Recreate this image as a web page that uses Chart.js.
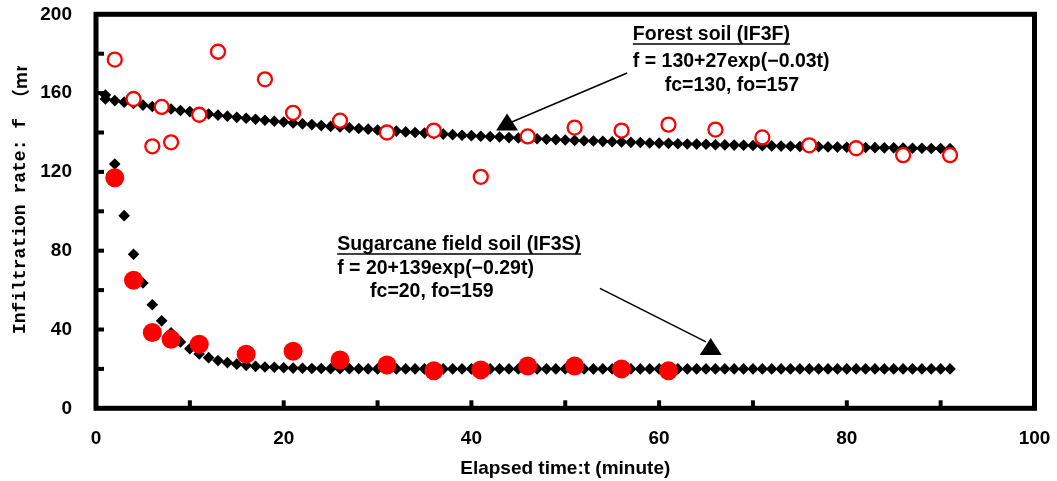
<!DOCTYPE html>
<html>
<head>
<meta charset="utf-8">
<script src="https://cdn.jsdelivr.net/npm/chart.js@4.4.1/dist/chart.umd.min.js"></script>
<style>
html, body { margin: 0; padding: 0; background: #fff; }
#wrap { width: 1057px; height: 481px; position: relative; }
</style>
</head>
<body>
<div id="wrap"><canvas id="myChart"></canvas></div>
<script>
// fitted curves, one diamond per minute
const fitTime = [
  1, 2, 3, 4, 5, 6, 7, 8, 9, 10, 11, 12, 13, 14, 15, 16, 17, 18, 19, 20,
  21, 22, 23, 24, 25, 26, 27, 28, 29, 30, 31, 32, 33, 34, 35, 36, 37, 38, 39, 40,
  41, 42, 43, 44, 45, 46, 47, 48, 49, 50, 51, 52, 53, 54, 55, 56, 57, 58, 59, 60,
  61, 62, 63, 64, 65, 66, 67, 68, 69, 70, 71, 72, 73, 74, 75, 76, 77, 78, 79, 80,
  81, 82, 83, 84, 85, 86, 87, 88, 89, 90, 91
];
const forestFit = [
  157.0, 156.2, 155.4, 154.7, 153.9, 153.2, 152.6, 151.9, 151.2, 150.6,
  150.0, 149.4, 148.8, 148.3, 147.7, 147.2, 146.7, 146.2, 145.7, 145.3,
  144.8, 144.4, 144.0, 143.5, 143.1, 142.8, 142.4, 142.0, 141.7, 141.3,
  141.0, 140.7, 140.3, 140.0, 139.7, 139.4, 139.2, 138.9, 138.6, 138.4,
  138.1, 137.9, 137.7, 137.4, 137.2, 137.0, 136.8, 136.6, 136.4, 136.2,
  136.0, 135.8, 135.7, 135.5, 135.3, 135.2, 135.0, 134.9, 134.7, 134.6,
  134.5, 134.3, 134.2, 134.1, 134.0, 133.8, 133.7, 133.6, 133.5, 133.4,
  133.3, 133.2, 133.1, 133.0, 132.9, 132.8, 132.8, 132.7, 132.6, 132.5,
  132.4, 132.4, 132.3, 132.2, 132.2, 132.1, 132.0, 132.0, 131.9, 131.9,
  131.8
];
const sugarFit = [
  159.0, 124.0, 97.8, 78.2, 63.6, 52.6, 44.4, 38.3, 33.7, 30.2,
  27.6, 25.7, 24.3, 23.2, 22.4, 21.8, 21.3, 21.0, 20.8, 20.6,
  20.4, 20.3, 20.2, 20.2, 20.1, 20.1, 20.1, 20.1, 20.0, 20.0,
  20, 20, 20, 20, 20, 20, 20, 20, 20, 20,
  20, 20, 20, 20, 20, 20, 20, 20, 20, 20,
  20, 20, 20, 20, 20, 20, 20, 20, 20, 20,
  20, 20, 20, 20, 20, 20, 20, 20, 20, 20,
  20, 20, 20, 20, 20, 20, 20, 20, 20, 20,
  20, 20, 20, 20, 20, 20, 20, 20, 20, 20,
  20
];

// measured infiltration rates
const forestTime = [2, 4, 6, 7, 8, 11, 13, 18, 21, 26, 31, 36, 41, 46, 51, 56, 61, 66, 71, 76, 81, 86, 91];
const forestObs = [177, 157, 133, 153, 135, 149, 181, 167, 150, 146, 140, 141, 117.5, 138, 142.5, 141, 144, 141.5, 137.5, 133.5, 132, 128.5, 128.5];
const sugarTime = [2, 4, 6, 8, 11, 16, 21, 26, 31, 36, 41, 46, 51, 56, 61];
const sugarObs = [117, 65, 38.5, 35, 32.5, 27.5, 29, 24.5, 22, 19, 19.5, 21.5, 21.5, 20, 19];

const xTicks = [0, 20, 40, 60, 80, 100];
const yTicks = [0, 40, 80, 120, 160, 200];

// text boxes and arrows, in data units
const notes = [
  { t: 57.2, f: 189.5, text: 'Forest soil (IF3F)', underline: true },
  { t: 57.2, f: 176, text: 'f = 130+27exp(\u22120.03t)' },
  { t: 60.6, f: 164, text: 'fc=130, fo=157' },
  { t: 25.7, f: 82.9, text: 'Sugarcane field soil (IF3S)', underline: true },
  { t: 25.7, f: 71.1, text: 'f = 20+139exp(\u22120.29t)' },
  { t: 29.2, f: 59.2, text: 'fc=20, fo=159' }
];
const arrows = [
  { from: [56.6, 170.2], to: [44.3, 145.3], head: [43.8, 144.0] },
  { from: [53.7, 60.9], to: [65.0, 33.7], head: [65.5, 30.1] }
];

const pts = (xs, ys) => xs.map((x, i) => ({ x: x, y: ys[i] }));
const tickFont = { family: 'Liberation Sans', size: 19, weight: 'bold' };

const data = {
  datasets: [
    {
      label: 'Forest soil (IF3F)',
      data: pts(forestTime, forestObs),
      pointStyle: 'circle',
      pointRadius: 7,
      borderWidth: 2.3,
      borderColor: '#ff0000',
      backgroundColor: '#ffffff',
      order: 0
    },
    {
      label: 'Sugarcane field soil (IF3S)',
      data: pts(sugarTime, sugarObs),
      pointStyle: 'circle',
      pointRadius: 9.5,
      borderWidth: 0,
      borderColor: '#ff0000',
      backgroundColor: '#ff0000',
      order: 0
    },
    {
      label: 'Forest fit',
      data: pts(fitTime, forestFit),
      pointStyle: 'rectRot',
      pointRadius: 5.8,
      borderWidth: 0,
      backgroundColor: '#000',
      borderColor: '#000',
      order: 1
    },
    {
      label: 'Sugarcane fit',
      data: pts(fitTime, sugarFit),
      pointStyle: 'rectRot',
      pointRadius: 5.8,
      borderWidth: 0,
      backgroundColor: '#000',
      borderColor: '#000',
      order: 1
    }
  ]
};

const frame = {
  id: 'frame',
  beforeDatasetsDraw(chart) {
    const { ctx, chartArea: a, scales: { x, y } } = chart;
    ctx.save();
    ctx.strokeStyle = '#000';
    ctx.lineWidth = 4;
    for (let v = 10; v < 100; v += 10) {
      const px = x.getPixelForValue(v);
      ctx.beginPath();
      ctx.moveTo(px, a.bottom);
      ctx.lineTo(px, a.bottom - 8);
      ctx.stroke();
    }
    for (let v = 20; v < 200; v += 20) {
      const py = y.getPixelForValue(v);
      ctx.beginPath();
      ctx.moveTo(a.left, py);
      ctx.lineTo(a.left + 8, py);
      ctx.stroke();
    }
    ctx.lineWidth = 5;
    ctx.strokeRect(a.left, a.top, a.right - a.left, a.bottom - a.top);
    ctx.restore();
  },
  afterDraw(chart) {
    const { ctx, scales: { x, y } } = chart;
    ctx.save();
    ctx.fillStyle = '#000';
    ctx.strokeStyle = '#000';

    // y title, cut off at the top like the original text box
    ctx.save();
    ctx.beginPath();
    ctx.rect(0, 66, 60, 300);
    ctx.clip();
    ctx.translate(20, 334);
    ctx.rotate(-Math.PI / 2);
    ctx.textAlign = 'left';
    ctx.textBaseline = 'middle';
    ctx.font = 'bold 18px "Liberation Mono"';
    const head = 'Infiltration rate: f ';
    ctx.fillText(head, 0, 0);
    const hw = ctx.measureText(head).width;
    ctx.font = 'bold 18px "Noto Sans CJK JP"';
    ctx.fillText('\uff08mm/min\uff09', hw, 0);
    ctx.restore();

    ctx.font = 'bold 19.5px "Liberation Sans"';
    ctx.textBaseline = 'middle';
    notes.forEach(n => {
      const px = x.getPixelForValue(n.t);
      const py = y.getPixelForValue(n.f);
      ctx.fillText(n.text, px, py);
      if (n.underline) {
        const w = ctx.measureText(n.text).width;
        ctx.lineWidth = 1.5;
        ctx.beginPath();
        ctx.moveTo(px, py + 9);
        ctx.lineTo(px + w, py + 9);
        ctx.stroke();
      }
    });

    arrows.forEach(ar => {
      ctx.lineWidth = 1.5;
      ctx.beginPath();
      ctx.moveTo(x.getPixelForValue(ar.from[0]), y.getPixelForValue(ar.from[1]));
      ctx.lineTo(x.getPixelForValue(ar.to[0]), y.getPixelForValue(ar.to[1]));
      ctx.stroke();
      const hx = x.getPixelForValue(ar.head[0]);
      const hy = y.getPixelForValue(ar.head[1]);
      ctx.beginPath();
      ctx.moveTo(hx, hy - 11);
      ctx.lineTo(hx - 11, hy + 6);
      ctx.lineTo(hx + 11, hy + 6);
      ctx.closePath();
      ctx.fill();
    });
    ctx.restore();
  }
};

const config = {
  type: 'scatter',
  data: data,
  options: {
    responsive: true,
    maintainAspectRatio: false,
    animation: false,
    layout: { autoPadding: false, padding: { top: 14.3, right: 22.5, left: 0, bottom: 0 } },
    plugins: {
      legend: { display: false },
      tooltip: { enabled: false }
    },
    scales: {
      x: {
        type: 'linear',
        min: 0,
        max: 100,
        afterBuildTicks: s => { s.ticks = xTicks.map(v => ({ value: v })); },
        afterFit: s => {
          s.height = 481 - 408.3;
          s.paddingLeft = 0;
          s.paddingRight = 0;
        },
        ticks: { font: tickFont, color: '#000', padding: 19, maxRotation: 0, autoSkip: false },
        grid: { display: false, drawTicks: false },
        border: { display: false },
        title: {
          display: true,
          text: 'Elapsed time:t (minute)',
          font: tickFont,
          color: '#000',
          padding: { top: 0, bottom: 1 }
        }
      },
      y: {
        min: 0,
        max: 200,
        afterBuildTicks: s => { s.ticks = yTicks.map(v => ({ value: v })); },
        afterFit: s => {
          s.width = 96;
          s.paddingTop = 0;
          s.paddingBottom = 0;
        },
        ticks: { font: tickFont, color: '#000', padding: 24 },
        grid: { display: false, drawTicks: false },
        border: { display: false }
      }
    }
  },
  plugins: [frame]
};

// eslint-disable-next-line
const myChart = new Chart(document.getElementById('myChart'), config);
</script>
</body>
</html>
